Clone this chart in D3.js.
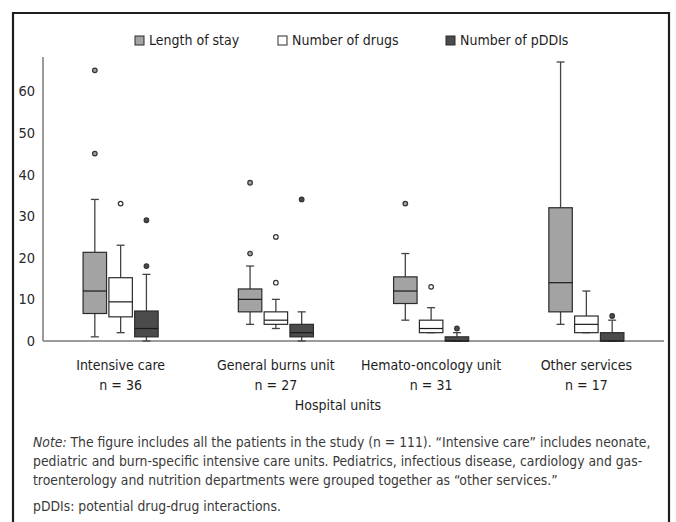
<!DOCTYPE html>
<html>
<head>
<meta charset="utf-8">
<script src="https://cdn.jsdelivr.net/npm/d3@7"></script>
<style>
  body { margin: 0; background: #fff; }
  svg { display: block; font-family: "DejaVu Sans Condensed", "Liberation Sans Narrow", sans-serif; font-stretch: condensed; }
</style>
</head>
<body>
<svg id="chart" width="676" height="522"></svg>
<script>
// hospital units and their sizes
const units = ['Intensive care', 'General burns unit', 'Hemato-oncology unit', 'Other services'];
const unitN = ['n = 36', 'n = 27', 'n = 31', 'n = 17'];
const seriesNames = ['Length of stay', 'Number of drugs', 'Number of pDDIs'];
const yTicks = [0, 10, 20, 30, 40, 50, 60];

// box stats per unit: [lower whisker, q1, median, q3, upper whisker]
const stayStats = [[1, 6.6, 12, 21.3, 34], [4, 7, 10, 12.5, 18], [5, 9, 12, 15.4, 21], [4, 7, 14, 32, 67]];
const stayOutliers = [[45, 65], [21, 38], [33], []];
const drugStats = [[2, 5.8, 9.4, 15.2, 23], [3, 4, 5, 7, 10], [2, 2, 3, 5, 8], [2, 2, 4, 6, 12]];
const drugOutliers = [[33], [14, 25], [13], []];
const pddiStats = [[0, 1, 3, 7.2, 16], [0, 1, 2, 4, 7], [0, 0, 0, 1, 2], [0, 0, 0, 2, 5]];
const pddiOutliers = [[18, 29], [34], [3], [6]];

const noteLines = [
  'The figure includes all the patients in the study (n = 111). \u201cIntensive care\u201d includes neonate,',
  'pediatric and burn-specific intensive care units. Pediatrics, infectious disease, cardiology and gas-',
  'troenterology and nutrition departments were grouped together as \u201cother services.\u201d'
];

const fills = ['#a3a3a3', '#ffffff', '#4b4b4b'];
const series = [
  {name: seriesNames[0], stats: stayStats, outliers: stayOutliers},
  {name: seriesNames[1], stats: drugStats, outliers: drugOutliers},
  {name: seriesNames[2], stats: pddiStats, outliers: pddiOutliers}
];

const svg = d3.select('#chart');

// frame
svg.append('path')
  .attr('d', 'M13,522 V13 H669 V522')
  .attr('fill', 'none')
  .attr('stroke', '#1e1e1e')
  .attr('stroke-width', 2.2);

const x0 = d3.scaleBand().domain(units).range([43, 664]);
const x1 = d3.scaleBand().domain(seriesNames).range([-38.7, 38.7]).paddingInner(0.09).paddingOuter(0.045);
const y = d3.scaleLinear().domain([0, 68.2]).range([341, 57]);

// axes lines
svg.append('line').attr('x1', 43).attr('x2', 43).attr('y1', y(68.2)).attr('y2', y(0))
  .attr('stroke', '#7a7a7a').attr('stroke-width', 1.5);
svg.append('line').attr('x1', 43).attr('x2', 664).attr('y1', y(0)).attr('y2', y(0))
  .attr('stroke', '#7a7a7a').attr('stroke-width', 1.5);

svg.selectAll('.ytick')
  .data(yTicks)
  .join('text')
    .attr('class', 'ytick')
    .attr('x', 35)
    .attr('y', d => y(d))
    .attr('dy', '0.35em')
    .attr('text-anchor', 'end')
    .attr('font-size', 14.5)
    .attr('fill', '#2a2a2a')
    .text(d => d);

// boxes
const bw = x1.bandwidth();
series.forEach((s, si) => {
  const g = svg.append('g');
  s.stats.forEach((st, ui) => {
    const cx = x0(units[ui]) + x0.bandwidth() / 2 + x1(s.name) + bw / 2;
    const [lo, q1, med, q3, hi] = st;
    // whiskers
    g.append('line').attr('x1', cx).attr('x2', cx).attr('y1', y(hi)).attr('y2', y(q3))
      .attr('stroke', '#444').attr('stroke-width', 1.3);
    g.append('line').attr('x1', cx).attr('x2', cx).attr('y1', y(q1)).attr('y2', y(lo))
      .attr('stroke', '#444').attr('stroke-width', 1.3);
    g.append('line').attr('x1', cx - 4).attr('x2', cx + 4).attr('y1', y(hi)).attr('y2', y(hi))
      .attr('stroke', '#444').attr('stroke-width', 1.3);
    g.append('line').attr('x1', cx - 4).attr('x2', cx + 4).attr('y1', y(lo)).attr('y2', y(lo))
      .attr('stroke', '#444').attr('stroke-width', 1.3);
    // box
    g.append('rect')
      .attr('x', cx - bw / 2)
      .attr('y', y(q3))
      .attr('width', bw)
      .attr('height', Math.max(y(q1) - y(q3), 0))
      .attr('fill', fills[si])
      .attr('stroke', '#2b2b2b')
      .attr('stroke-width', 1.2);
    g.append('line').attr('x1', cx - bw / 2).attr('x2', cx + bw / 2).attr('y1', y(med)).attr('y2', y(med))
      .attr('stroke', '#1a1a1a').attr('stroke-width', 1.2);
    // outliers
    g.selectAll(null)
      .data(s.outliers[ui])
      .join('circle')
        .attr('cx', cx)
        .attr('cy', d => y(d))
        .attr('r', 2.3)
        .attr('fill', fills[si])
        .attr('stroke', '#333')
        .attr('stroke-width', 1.2);
  });
});

// x labels
const xl = svg.append('g');
units.forEach((u, i) => {
  const cx = x0(u) + x0.bandwidth() / 2;
  xl.append('text').attr('x', cx).attr('y', 370).attr('text-anchor', 'middle')
    .attr('font-size', 14).attr('fill', '#1e1e1e').text(u);
  xl.append('text').attr('x', cx).attr('y', 390).attr('text-anchor', 'middle')
    .attr('font-size', 14).attr('fill', '#1e1e1e').text(unitN[i]);
});
svg.append('text').attr('x', 338).attr('y', 410).attr('text-anchor', 'middle')
  .attr('font-size', 14).attr('fill', '#1e1e1e').text('Hospital units');

// legend
const legX = [135, 278, 446];
seriesNames.forEach((n, i) => {
  svg.append('rect').attr('x', legX[i]).attr('y', 36).attr('width', 9).attr('height', 9)
    .attr('fill', fills[i]).attr('stroke', '#2b2b2b').attr('stroke-width', 1);
  svg.append('text').attr('x', legX[i] + 14).attr('y', 40.5).attr('dy', '0.35em')
    .attr('font-size', 14).attr('fill', '#1e1e1e').text(n);
});

// note
const note = svg.append('g').attr('font-size', 13.8).attr('fill', '#3a3a3a');
const first = note.append('text').attr('x', 33).attr('y', 447);
first.append('tspan').attr('font-style', 'italic').text('Note:');
first.append('tspan').text(' ' + noteLines[0]);
note.append('text').attr('x', 33).attr('y', 466).text(noteLines[1]);
note.append('text').attr('x', 33).attr('y', 485).text(noteLines[2]);
note.append('text').attr('x', 33).attr('y', 511).text('pDDIs: potential drug-drug interactions.');
</script>
</body>
</html>
